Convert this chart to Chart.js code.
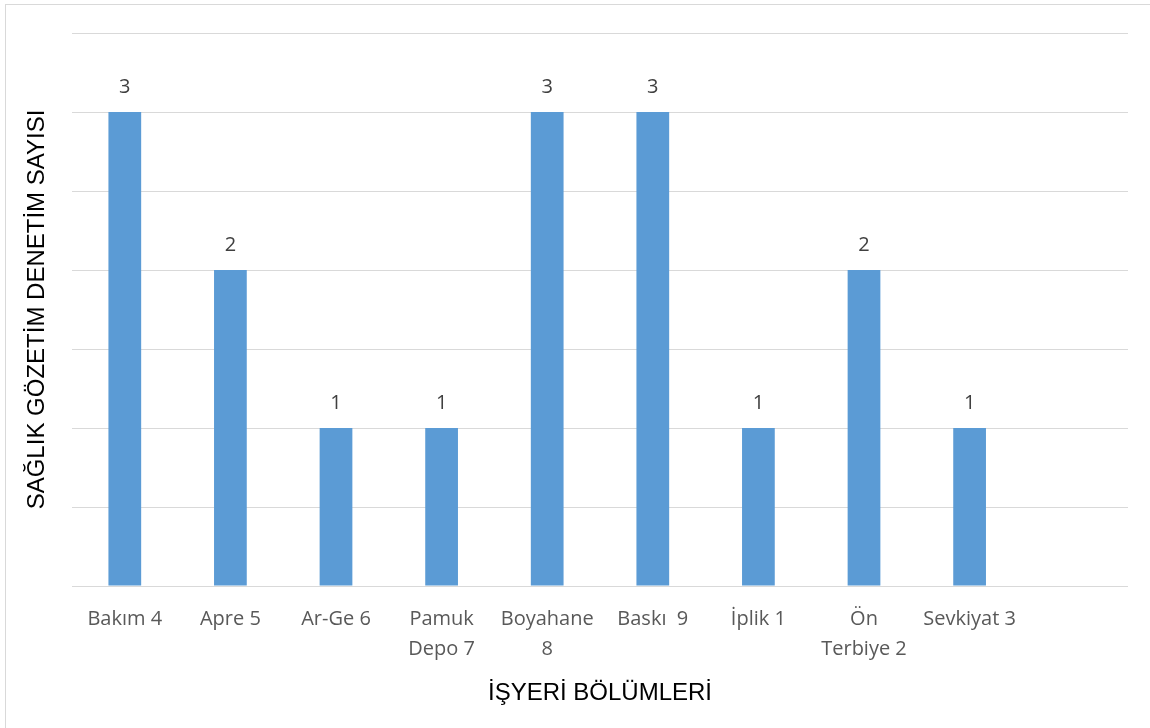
<html>
  <head>
    <title>Sağlık gözetim denetim sayısı</title>
    <script src="https://cdn.jsdelivr.net/npm/chart.js@4.4.1/dist/chart.umd.min.js"></script>
    <style>
      body   { margin:0; background:#fff; }
      .frame { position:absolute; left:5px; top:4px; width:1200px; height:800px; border:1px solid #d9d9d9; }
      .box   { position:absolute; left:0; top:0; width:1150px; height:728px; }
    </style>
  </head>
  <body>
    <div class="frame"></div>
    <div class="box"><canvas id="myChart"></canvas></div>
    <script>
      var bolumler = [['Bakım 4'], ['Apre 5'], ['Ar-Ge 6'], ['Pamuk', 'Depo 7'], ['Boyahane', '8'],
                      ['Baskı  9'], ['İplik 1'], ['Ön', 'Terbiye 2'], ['Sevkiyat 3'], ''];
      var denetimSayisi = [3, 2, 1, 1, 3, 3, 1, 2, 1, null];

      // value labels above each bar
      var barLabels = {
        id: 'barLabels',
        afterDatasetsDraw: function(chart) {
          var ctx = chart.ctx;
          ctx.save();
          ctx.font = '20px "Open Sans"';
          ctx.fillStyle = '#404040';
          ctx.textAlign = 'center';
          ctx.textBaseline = 'middle';
          chart.getDatasetMeta(0).data.forEach(function(bar, i) {
            var v = denetimSayisi[i];
            if (v == null) return;
            ctx.fillText(String(v), bar.x, bar.y - 25);
          });
          ctx.restore();
        }
      };

      var ctx = document.getElementById('myChart').getContext('2d');
      var myChart = new Chart(ctx, {
        type: 'bar',
        data: {
          labels: bolumler,
          datasets: [{
            data: denetimSayisi,
            backgroundColor: '#5b9bd5',
            barPercentage: 0.31,
            categoryPercentage: 1
          }]
        },
        options: {
          responsive: true,
          maintainAspectRatio: false,
          animation: false,
          layout: { padding: { left: 0, right: 22, top: 33, bottom: 0 } },
          plugins: { legend: { display: false }, tooltip: { enabled: false } },
          scales: {
            x: {
              grid: { display: false, drawTicks: false },
              border: { display: false },
              ticks: {
                color: '#595959',
                font: { family: '"Open Sans"', size: 20, lineHeight: 1.5 },
                padding: 18,
                maxRotation: 0,
                autoSkip: false
              },
              title: {
                display: true,
                text: 'İŞYERİ BÖLÜMLERİ',
                color: '#000',
                font: { family: '"Liberation Sans"', size: 24 },
                padding: { top: 0, bottom: 20.6 }
              },
              afterFit: function(s) { s.height = 142; }
            },
            y: {
              min: 0,
              max: 3.5,
              ticks: { display: false, stepSize: 0.5 },
              grid: { color: '#d9d9d9', lineWidth: 1, drawTicks: false },
              border: { display: false },
              title: {
                display: true,
                text: 'SAĞLIK GÖZETİM DENETİM SAYISI',
                color: '#000',
                font: { family: '"Liberation Sans"', size: 24 },
                padding: { top: 22.6, bottom: 0 }
              },
              afterFit: function(s) { s.width = 72; }
            }
          }
        },
        plugins: [barLabels]
      });
    </script>
  </body>
</html>
